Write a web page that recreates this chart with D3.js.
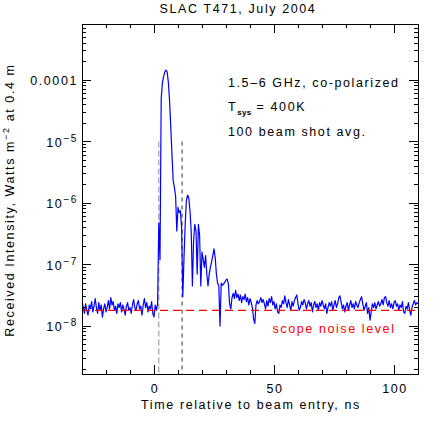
<!DOCTYPE html>
<html>
<head>
<meta charset="utf-8">
<script src="https://cdn.jsdelivr.net/npm/d3@7"></script>
<style>
  body { margin: 0; background: #fff; }
  svg text { font-family: "Liberation Sans", Arial, sans-serif; font-size: 12.5px; letter-spacing: 1.6px; fill: #000; }
</style>
</head>
<body>
<svg id="chart" width="443" height="443"></svg>
<script>
//Données
const tStart = -30 //ns, premier échantillon
const tStep = 0.5  //ns entre deux échantillons
//Intensité reçue, en unités de 1e-8 W m^-2 (de -30 à 110 ns)
const intensityE8 = [
  2.6, 2.0, 1.6, 2.3, 1.8, 1.5, 2.2, 1.9, 2.5, 1.7,
  2.1, 2.8, 2.0, 1.6, 2.4, 1.8, 2.2, 1.4, 1.9, 2.3,
  1.7, 2.0, 2.6, 1.9, 2.9, 2.2, 2.5, 1.8, 2.1, 1.6,
  2.3, 2.0, 2.4, 1.7, 2.2, 1.9, 1.5, 2.1, 2.4, 1.8,
  2.0, 1.6, 2.2, 2.7, 2.0, 1.8, 2.3, 2.6, 1.9, 2.1,
  1.5, 2.2, 2.8, 2.0, 2.4, 1.7, 2.1, 1.9, 2.5, 1.6,
  1.4, 2.2, 1.8, 2.3, 47, 12, 5000, 9000, 11500, 13500,
  14500, 13500, 9000, 4500, 1700, 600, 230, 180, 130, 35,
  85, 70, 75, 40, 3.0, 13, 45, 110, 135, 120,
  75, 35, 4.5, 25, 45, 35, 7, 45, 30, 4.5,
  16, 12, 9, 14, 7, 4.5, 7, 9, 11, 14,
  18, 13, 7, 5.0, 4.5, 1.0, 5.0, 4.6, 4.8, 5.2,
  5.6, 5.8, 4.8, 2.3, 1.9, 2.9, 3.4, 2.8, 3.8, 2.9,
  3.3, 2.6, 3.2, 2.4, 3.0, 2.7, 3.3, 2.5, 2.9, 2.2,
  2.8, 2.4, 2.0, 1.3, 1.1, 2.2, 2.6, 2.3, 2.5, 2.9,
  2.4, 2.7, 2.3, 1.9, 2.6, 2.1, 2.8, 2.4, 3.0, 2.2,
  2.5, 1.9, 2.3, 1.7, 1.6, 2.2, 2.0, 2.6, 2.3, 3.1,
  2.4, 2.0, 2.7, 2.2, 1.8, 2.5, 2.1, 2.6, 2.9, 3.2,
  2.3, 1.8, 2.0, 2.5, 2.2, 2.7, 2.4, 1.9, 2.3, 2.6,
  2.1, 2.4, 1.7, 2.2, 2.5, 2.0, 2.3, 1.8, 2.4, 2.1,
  2.6, 2.2, 1.9, 2.3, 1.6, 2.0, 2.4, 2.1, 2.5, 1.8,
  2.2, 2.6, 2.0, 2.3, 2.9, 3.1, 2.4, 1.9, 2.2, 1.7,
  2.1, 2.4, 1.8, 2.2, 2.6, 2.0, 2.3, 1.9, 2.5, 2.2,
  2.0, 2.4, 2.7, 3.0, 2.3, 1.8, 2.1, 2.4, 1.6, 2.0,
  1.25, 1.7, 2.3, 2.0, 2.4, 1.9, 2.2, 2.5, 2.1, 2.3,
  2.7, 2.2, 2.9, 3.0, 2.4, 2.1, 2.6, 2.0, 2.3, 1.9,
  2.4, 2.6, 2.1, 2.3, 1.8, 2.2, 2.0, 2.5, 1.7, 1.6,
  2.1, 1.9, 2.4, 1.8, 1.5, 2.0, 2.3, 2.6, 2.2, 2.4,
  2.3
]
const noiseLevel = 1.8e-8          //W m^-2
const beamMarks = [2, 11.7]        //ns, entrée / sortie du faisceau
const beamMarkTop = 1e-5
const xMajorTicks = [0, 50, 100]
const yDecades = [1e-8, 1e-7, 1e-6, 1e-5, 1e-4]
const titleText = 'SLAC T471, July 2004'
const xLabelText = 'Time relative to beam entry, ns'

//Constantes de mise en page
const W = 443
const H = 443
const margin = { top: 24, right: 25, bottom: 69, left: 82 }
const majorTick = 9
const minorTick = 4

const svg = d3.select('#chart')

const x = d3.scaleLinear().domain([-30, 110]).range([margin.left, W - margin.right])
const y = d3.scaleLog().domain([1.66e-9, 8.15e-4]).range([H - margin.bottom, margin.top])

const [x0, x1] = x.range()
const [y0, y1] = y.range() //y0 = bas, y1 = haut

//Courbe
const series = intensityE8.map((v, i) => ({ t: tStart + i * tStep, v: v * 1e-8 }))

svg.append('clipPath').attr('id', 'plot-clip')
  .append('rect').attr('x', x0).attr('y', y1).attr('width', x1 - x0).attr('height', y0 - y1)

const plot = svg.append('g').attr('clip-path', 'url(#plot-clip)')

//Lignes verticales pointillées (entrée du faisceau)
plot.selectAll('line.beam')
  .data(beamMarks)
  .enter()
  .append('line')
  .attr('class', 'beam')
  .attr('x1', d => x(d)).attr('x2', d => x(d))
  .attr('y1', y(beamMarkTop)).attr('y2', y0)
  .attr('stroke', (d, i) => i === 0 ? '#999' : '#444')
  .attr('stroke-width', 1.1)
  .attr('stroke-dasharray', (d, i) => i === 0 ? '6,3' : '4,4')

const line = d3.line().x(d => x(d.t)).y(d => y(d.v))
plot.append('path')
  .datum(series)
  .attr('d', line)
  .attr('fill', 'none')
  .attr('stroke', '#0000ff')
  .attr('stroke-width', 1.2)
  .attr('stroke-linejoin', 'round')

//Niveau de bruit
plot.append('line')
  .attr('x1', x0).attr('x2', x1)
  .attr('y1', y(noiseLevel)).attr('y2', y(noiseLevel))
  .attr('stroke', '#ff0000')
  .attr('stroke-width', 1.2)
  .attr('stroke-dasharray', '8,5')

svg.append('text')
  .attr('x', x(75)).attr('y', y(noiseLevel) + 23)
  .attr('text-anchor', 'middle')
  .style('fill', '#ff0000')
  .text('scope noise level')

//Cadre et graduations
const axes = svg.append('g').attr('stroke', '#000').attr('shape-rendering', 'crispEdges')
axes.append('rect')
  .attr('x', x0).attr('y', y1).attr('width', x1 - x0).attr('height', y0 - y1)
  .attr('fill', 'none').attr('stroke-width', 1)

const xTicks = d3.range(-20, 111, 10)
xTicks.forEach(function(t) {
  const len = xMajorTicks.includes(t) ? majorTick : minorTick
  axes.append('line').attr('x1', x(t)).attr('x2', x(t)).attr('y1', y0).attr('y2', y0 - len)
  axes.append('line').attr('x1', x(t)).attr('x2', x(t)).attr('y1', y1).attr('y2', y1 + len)
})

y.ticks().filter(v => v > y.domain()[0] && v < y.domain()[1]).forEach(function(v) {
  const isMajor = yDecades.some(d => Math.abs(d - v) / d < 1e-6)
  const len = isMajor ? majorTick : minorTick
  axes.append('line').attr('x1', x0).attr('x2', x0 + len).attr('y1', y(v)).attr('y2', y(v))
  axes.append('line').attr('x1', x1).attr('x2', x1 - len).attr('y1', y(v)).attr('y2', y(v))
})

//Étiquettes de l'axe x
svg.selectAll('text.xtick')
  .data(xMajorTicks)
  .enter()
  .append('text')
  .attr('class', 'xtick')
  .attr('x', d => x(d) + 1)
  .attr('y', y0 + 19)
  .attr('text-anchor', 'middle')
  .text(d => d)

//Étiquettes de l'axe y
yDecades.forEach(function(v) {
  const exp = Math.round(Math.log10(v))
  const label = svg.append('text')
    .attr('x', x0 - 4)
    .attr('y', y(v) + 5)
    .attr('text-anchor', 'end')
  if (exp === -4) {
    label.text('0.0001')
  } else {
    label.append('tspan').text('10')
    label.append('tspan').attr('dy', -5).style('font-size', '10px').text('\u2212' + (-exp))
  }
})

//Titres
svg.append('text')
  .attr('x', 238).attr('y', 13)
  .attr('text-anchor', 'middle')
  .text(titleText)

svg.append('text')
  .attr('x', 251).attr('y', 409)
  .attr('text-anchor', 'middle')
  .text(xLabelText)

const yLabel = svg.append('text')
  .attr('transform', 'translate(14,' + 200 + ') rotate(-90)')
  .attr('text-anchor', 'middle')
yLabel.append('tspan').text('Received Intensity, Watts m')
yLabel.append('tspan').attr('dy', -5).style('font-size', '9px').text('\u22122')
yLabel.append('tspan').attr('dy', 5).text(' at 0.4 m')

//Légende
const legendX = 228
svg.append('text').attr('x', legendX).attr('y', 87).text('1.5\u20136 GHz, co-polarized')
const tsys = svg.append('text').attr('x', legendX).attr('y', 111)
tsys.append('tspan').text('T')
tsys.append('tspan').attr('dy', 4).style('font-size', '8px').style('font-weight', 'bold').style('letter-spacing', '0.3px').text('sys')
tsys.append('tspan').attr('dy', -4).text(' = 400K')
svg.append('text').attr('x', legendX).attr('y', 136).text('100 beam shot avg.')
</script>
</body>
</html>
